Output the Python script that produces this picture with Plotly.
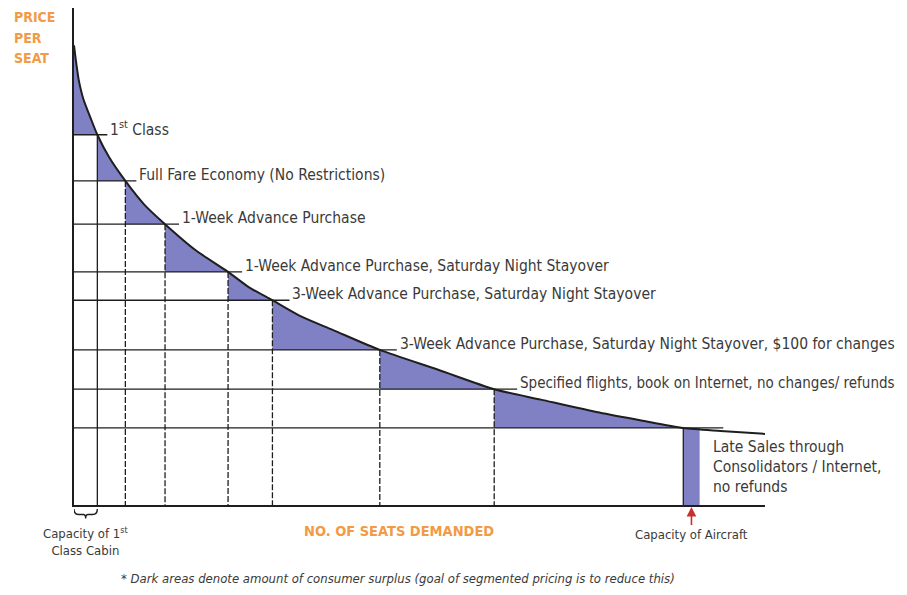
import plotly.graph_objects as go

# ---------------- data ----------------
curve_seats = [0, 1, 2, 4, 7, 10, 15, 22, 30, 39, 52, 66, 75, 85, 97, 111,
               131, 156, 180, 200, 225, 243, 261, 277, 296]
curve_prices = [925, 888, 856, 817, 780, 745, 700, 652, 605, 565, 513, 469,
                438, 412, 380, 352, 312, 272, 233, 212, 186, 170, 155, 149, 143]

tier_labels = [
    "1<sup>st</sup> Class",
    "Full Fare Economy (No Restrictions)",
    "1-Week Advance Purchase",
    "1-Week Advance Purchase, Saturday Night Stayover",
    "3-Week Advance Purchase, Saturday Night Stayover",
    "3-Week Advance Purchase, Saturday Night Stayover, $100 for changes",
    "Specified flights, book on Internet, no changes/ refunds",
    "",
]
tier_seats = [10, 22, 39, 66, 85, 131, 180, 261]
tier_prices = [745, 652, 565, 469, 412, 312, 233, 155]
aircraft_capacity = 268
late_label = "Late Sales through<br>Consolidators / Internet,<br>no refunds"

# ---------------- style ----------------
OFF = 8                      # page body margin offset
W, H = 907 - OFF, 595 - OFF
ML, MT = 74 - OFF, 8 - OFF
PLOT_R, PLOT_B = 765 - OFF, 505 - OFF
MR, MB = W - PLOT_R, H - PLOT_B
X_MAX, Y_MAX = 296, 1000
PW = W - ML - MR
PPH = H - MT - MB
PX_PER_SEAT = PW / X_MAX

FONT = "Liberation Sans Narrow, Arial Narrow, DejaVu Sans Condensed, Roboto, sans-serif"
TXT = "#3a3a3a"
ORANGE = "#F29A45"
FILL = "#8080C4"
INK = "#1e1e1e"
label_sizes = [15.5, 15.5, 15.5, 15.5, 15.5, 15.5, 15, 15.5]


def paper_x(px):
    return (px - OFF - ML) / PW


def paper_y(py):
    return (PLOT_B - (py - OFF)) / PPH


fig = go.Figure()

# shaded consumer-surplus areas
prev = 0
for s, p in zip(tier_seats, tier_prices):
    xs = [x for x in curve_seats if prev <= x <= s]
    ys = [curve_prices[curve_seats.index(x)] for x in xs]
    xs = xs + [s, prev, prev]
    ys = ys + [p, p, ys[0]]
    fig.add_trace(go.Scatter(x=xs, y=ys, mode="lines", fill="toself",
                             fillcolor=FILL, line=dict(width=0),
                             hoverinfo="skip", showlegend=False))
    prev = s

# late sales block
s0, pl = tier_seats[-1], tier_prices[-1]
fig.add_trace(go.Scatter(x=[s0, aircraft_capacity, aircraft_capacity, s0, s0],
                         y=[0, 0, pl, pl, 0], mode="lines", fill="toself",
                         fillcolor=FILL, line=dict(width=0),
                         hoverinfo="skip", showlegend=False))

# horizontal price lines
ext_px = [10, 11, 14, 14, 17, 17, 23, 40]
for i, (s, p) in enumerate(zip(tier_seats, tier_prices)):
    xe = s + ext_px[i] / PX_PER_SEAT
    fig.add_trace(go.Scatter(x=[0, xe], y=[p, p], mode="lines",
                             line=dict(color=INK, width=1.3),
                             hoverinfo="skip", showlegend=False))

# vertical lines
for i, (s, p) in enumerate(zip(tier_seats, tier_prices)):
    solid = i in (0, len(tier_seats) - 1)
    fig.add_trace(go.Scatter(x=[s, s], y=[p, 0], mode="lines",
                             line=dict(color=INK, width=1.3,
                                       dash="solid" if solid else "6px,2px"),
                             hoverinfo="skip", showlegend=False))

# demand curve
fig.add_trace(go.Scatter(x=curve_seats, y=curve_prices, mode="lines",
                         line=dict(color=INK, width=2, shape="spline", smoothing=0.7),
                         hoverinfo="skip", showlegend=False))

ann = []
for i, (s, p) in enumerate(zip(tier_seats, tier_prices)):
    if not tier_labels[i]:
        continue
    xe = s + ext_px[i] / PX_PER_SEAT
    ann.append(dict(x=xe, y=p, xref="x", yref="y", text=tier_labels[i],
                    showarrow=False, xanchor="left", yanchor="middle",
                    xshift=1, yshift=6,
                    font=dict(family=FONT, size=label_sizes[i], color=TXT)))

ann.append(dict(x=aircraft_capacity, y=tier_prices[-1], xref="x", yref="y",
                text=late_label, showarrow=False, xanchor="left", yanchor="top",
                align="left", xshift=11, yshift=-8,
                font=dict(family=FONT, size=15.5, color=TXT)))

ann.append(dict(x=(tier_seats[-1] + aircraft_capacity) / 2, y=0, xref="x", yref="y",
                text="Capacity of Aircraft", showarrow=True, ax=0, ay=29,
                arrowhead=2, arrowsize=1.2, arrowwidth=1.6, arrowcolor="#C8302C",
                standoff=2, font=dict(family=FONT, size=13, color=TXT)))

ann.append(dict(x=paper_x(86), y=paper_y(523), xref="paper", yref="paper",
                text="Capacity of 1<sup>st</sup><br>Class Cabin", showarrow=False,
                xanchor="center", yanchor="top", align="center",
                font=dict(family=FONT, size=13, color=TXT)))

for word, py in zip(["PRICE", "PER", "SEAT"], [17, 37.5, 58]):
    ann.append(dict(x=paper_x(12), y=paper_y(py), xref="paper", yref="paper",
                    text=f"<b>{word}</b>", showarrow=False,
                    xanchor="left", yanchor="middle", align="left",
                    font=dict(family=FONT, size=14, color=ORANGE)))

ann.append(dict(x=paper_x(399), y=paper_y(531), xref="paper", yref="paper",
                text="<b>NO. OF SEATS DEMANDED</b>", showarrow=False,
                xanchor="center", yanchor="middle",
                font=dict(family=FONT, size=14.5, color=ORANGE)))

ann.append(dict(x=paper_x(398), y=paper_y(578), xref="paper", yref="paper",
                text="<i>* Dark areas denote amount of consumer surplus "
                     "(goal of segmented pricing is to reduce this)</i>",
                showarrow=False, xanchor="center", yanchor="middle",
                font=dict(family=FONT, size=13, color=TXT)))

# brace under first-class capacity
b0, b1 = 0, tier_seats[0]
bm = (b0 + b1) / 2
brace = (f"M {b0},-0.008 Q {b0},-0.019 {b0 + 2},-0.019 L {bm - 1},-0.019 "
         f"Q {bm},-0.019 {bm},-0.027 Q {bm},-0.019 {bm + 1},-0.019 "
         f"L {b1 - 2},-0.019 Q {b1},-0.019 {b1},-0.008")
shapes = [dict(type="path", xref="x", yref="paper", path=brace,
               line=dict(color=INK, width=1.4))]

fig.update_layout(
    width=W, height=H,
    margin=dict(l=ML, r=MR, t=MT, b=MB, pad=0),
    paper_bgcolor="white", plot_bgcolor="white",
    showlegend=False,
    xaxis=dict(range=[0, X_MAX], showline=True, linecolor=INK, linewidth=1.5,
               showgrid=False, zeroline=False, showticklabels=False, ticks=""),
    yaxis=dict(range=[0, Y_MAX], showline=True, linecolor=INK, linewidth=1.5,
               showgrid=False, zeroline=False, showticklabels=False, ticks=""),
    annotations=ann,
    shapes=shapes,
)

fig.write_html("out.html")
